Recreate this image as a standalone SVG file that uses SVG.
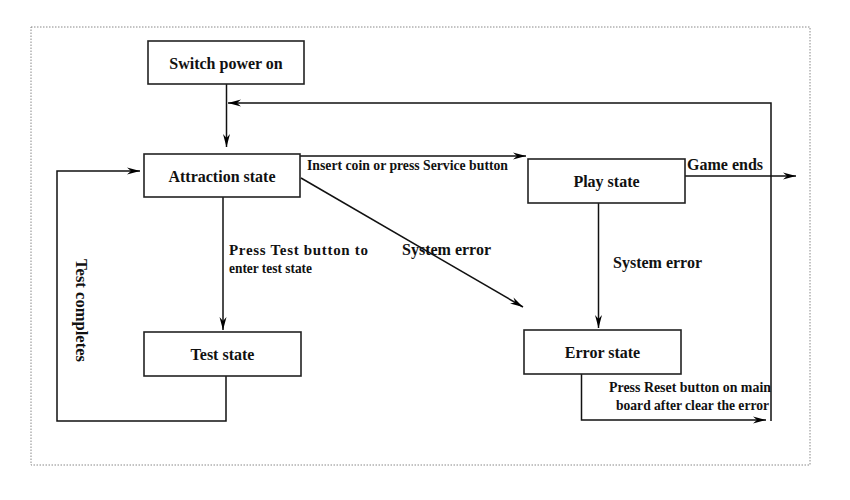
<svg xmlns="http://www.w3.org/2000/svg" width="850" height="500" viewBox="0 0 850 500">
<defs>
<marker id="arr" markerWidth="14" markerHeight="8" refX="13" refY="4" orient="auto" markerUnits="userSpaceOnUse">
<path d="M0,0.5 L13,4 L0,7.5 L4,4 Z" fill="#000"/>
</marker>
<style>
.box{fill:#fff;stroke:#222;stroke-width:1.6}
.lbl{font-family:"Liberation Serif","Times New Roman",serif;font-weight:bold;font-size:16px;fill:#111}
.t{font-family:"Liberation Serif","Times New Roman",serif;font-weight:bold;font-size:15px;fill:#111}
.c{fill:none;stroke:#111;stroke-width:1.5}
</style>
</defs>
<rect width="850" height="500" fill="#fff"/>
<rect x="31" y="27" width="779" height="438" fill="none" stroke="#888" stroke-width="1" stroke-dasharray="1.5,1.5"/>
<g id="connectors">
<path class="c" d="M226.5,70 V147" marker-end="url(#arr)"/>
<path class="c" d="M771,421 V103 H228" marker-end="url(#arr)"/>
<path class="c" d="M300,156 H526" marker-end="url(#arr)"/>
<path class="c" d="M684,176 H796" marker-end="url(#arr)"/>
<path class="c" d="M598.5,193 V328" marker-end="url(#arr)"/>
<path class="c" d="M301,178 L523,307" marker-end="url(#arr)"/>
<path class="c" d="M223,193 V330" marker-end="url(#arr)"/>
<path class="c" d="M226,376 V421 H57 V171 H140" marker-end="url(#arr)"/>
<path class="c" d="M581.5,374 V420 H766" marker-end="url(#arr)"/>
</g>
<g id="switch">
<rect class="box" x="148" y="41" width="156" height="43"/>
<text class="lbl" x="226" y="69" text-anchor="middle">Switch power on</text>
</g>
<g id="attraction">
<rect class="box" x="144" y="154" width="156" height="43"/>
<text class="lbl" x="222" y="182" text-anchor="middle">Attraction state</text>
</g>
<g id="play">
<rect class="box" x="528" y="159" width="157" height="44"/>
<text class="lbl" x="606.5" y="187" text-anchor="middle">Play state</text>
</g>
<g id="test">
<rect class="box" x="144" y="332" width="157" height="44"/>
<text class="lbl" x="222.5" y="360" text-anchor="middle">Test state</text>
</g>
<g id="error">
<rect class="box" x="524" y="330" width="157" height="44"/>
<text class="lbl" x="602.5" y="358" text-anchor="middle">Error state</text>
</g>
<g id="labels">
<text class="t" x="307" y="170" textLength="201" lengthAdjust="spacingAndGlyphs">Insert coin or press Service button</text>
<text class="lbl" x="687" y="170">Game ends</text>
<text class="lbl" x="613" y="268">System error</text>
<text class="lbl" x="402" y="254.5">System error</text>
<text class="t" x="229" y="255" textLength="139" lengthAdjust="spacing">Press Test button to</text>
<text class="t" x="229" y="272.5" textLength="83" lengthAdjust="spacingAndGlyphs">enter test state</text>
<text class="t" x="609" y="391.5" textLength="162" lengthAdjust="spacingAndGlyphs">Press Reset button on main</text>
<text class="t" x="616" y="410" textLength="153" lengthAdjust="spacingAndGlyphs">board after clear the error</text>
<text class="lbl" transform="translate(75.5,259) rotate(90)" textLength="103" lengthAdjust="spacingAndGlyphs">Test completes</text>
</g>
</svg>
